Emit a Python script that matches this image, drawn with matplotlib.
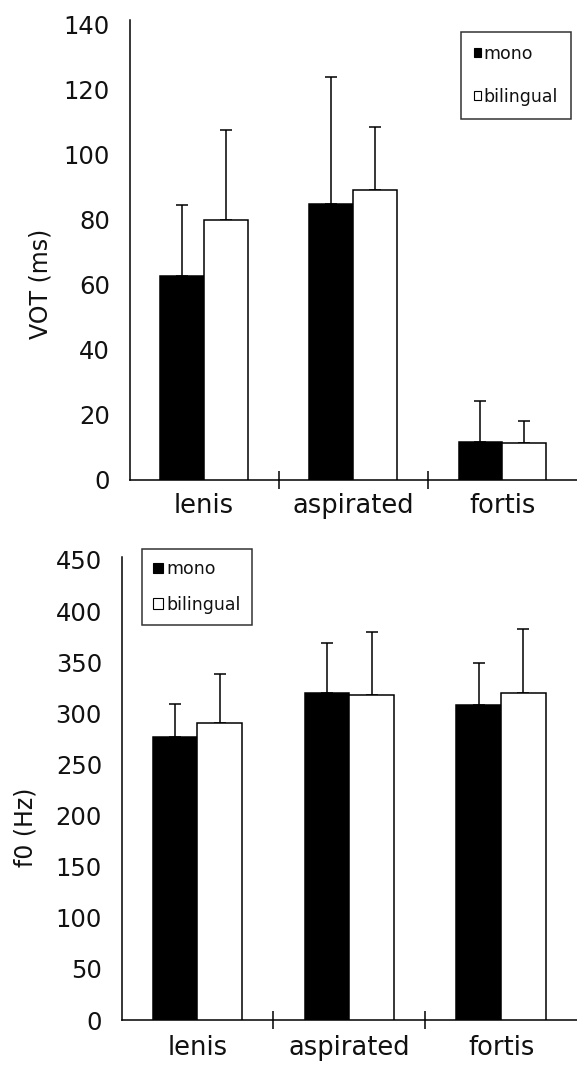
import matplotlib
matplotlib.use('Agg')
import matplotlib.pyplot as plt
from matplotlib.patches import Patch
import numpy as np

plt.rcParams['font.family'] = ['DejaVu Sans']

categories = ['lenis', 'aspirated', 'fortis']
series_names = ['mono', 'bilingual']

vot_mono = [62.6, 84.9, 11.6]
vot_mono_sd = [22.0, 39.2, 12.5]
vot_bil = [79.8, 89.1, 11.1]
vot_bil_sd = [27.9, 19.6, 6.8]

f0_mono = [277, 320, 308]
f0_mono_sd = [32.6, 49.2, 41.0]
f0_bil = [290.6, 317.7, 319.8]
f0_bil_sd = [48.2, 61.8, 62.7]

vot_ticks = [0, 20, 40, 60, 80, 100, 120, 140]
f0_ticks = [0, 50, 100, 150, 200, 250, 300, 350, 400, 450]

W, H = 577, 1065
fig = plt.figure(figsize=(W / 100, H / 100), dpi=100)

def fx(px):
    return px / W

def fy(py):
    return 1 - py / H

LW = 1.1
bw = 0.294
TXT = '#111111'


def draw(ax, mono, mono_sd, bil, bil_sd, ticks, ytop, ylabel, label_xy, xpad):
    x = np.arange(len(categories))
    ax.bar(x - bw / 2, mono, bw, color='black', edgecolor='black', linewidth=LW, zorder=3)
    ax.bar(x + bw / 2, bil, bw, color='white', edgecolor='black', linewidth=LW, zorder=3)
    ax.errorbar(x - bw / 2, mono, yerr=[np.zeros(len(mono)), mono_sd], fmt='none',
                ecolor='black', elinewidth=LW, capsize=4.2, capthick=LW, zorder=2)
    ax.errorbar(x + bw / 2, bil, yerr=[np.zeros(len(bil)), bil_sd], fmt='none',
                ecolor='black', elinewidth=LW, capsize=4.2, capthick=LW, zorder=2)
    ax.set_xlim(-0.5, len(categories) - 0.5)
    ax.set_ylim(0, ytop)
    ax.set_yticks(ticks)
    ax.set_xticks(x)
    ax.set_xticklabels(categories)
    ax.set_xticks([0.5, 1.5], minor=True)
    ax.tick_params(axis='x', which='major', length=0, pad=xpad, labelsize=18.5, colors=TXT)
    ax.tick_params(axis='x', which='minor', length=13, direction='inout', width=LW)
    ax.tick_params(axis='y', length=0, pad=14, labelsize=17.5, colors=TXT)
    for s in ['top', 'right']:
        ax.spines[s].set_visible(False)
    for s in ['left', 'bottom']:
        ax.spines[s].set_linewidth(LW)
    ax.set_ylabel(ylabel, fontsize=17, color=TXT)
    ax.yaxis.set_label_coords(*label_xy)
    ax.patch.set_alpha(0)


# top axes
ax1 = fig.add_axes([fx(129.5), fy(479.5), 1 - fx(129.5), (479.5 - 20) / H])
draw(ax1, vot_mono, vot_mono_sd, vot_bil, vot_bil_sd, vot_ticks, 141.5,
     'VOT (ms)', (-0.172, 0.425), 9.5)

# bottom axes
ax2 = fig.add_axes([fx(121.5), fy(1020), 1 - fx(121.5), (1020 - 556.5) / H])
draw(ax2, f0_mono, f0_mono_sd, f0_bil, f0_bil_sd, f0_ticks, 453.4,
     'f0 (Hz)', (-0.185, 0.415), 11)

handles = [Patch(facecolor='black', edgecolor='black', linewidth=0.8),
           Patch(facecolor='white', edgecolor='black', linewidth=0.8)]

leg1 = fig.legend(handles, series_names, loc='upper left',
                  bbox_to_anchor=(fx(461), fy(32)), bbox_transform=fig.transFigure,
                  fontsize=12.5, handlelength=0.42, handleheight=0.42, handletextpad=0.12,
                  labelspacing=1.45, borderpad=0.75, borderaxespad=0, fancybox=False,
                  frameon=True, edgecolor='black')
leg1.get_frame().set_linewidth(1.1)
for t in leg1.get_texts():
    t.set_color(TXT)

leg2 = fig.legend(handles, series_names, loc='upper left',
                  bbox_to_anchor=(fx(141.7), fy(549)), bbox_transform=fig.transFigure,
                  fontsize=12.5, handlelength=0.55, handleheight=0.55, handletextpad=0.2,
                  labelspacing=1.0, borderpad=0.65, borderaxespad=0, fancybox=False,
                  frameon=True, edgecolor='black')
leg2.get_frame().set_linewidth(1.1)
for t in leg2.get_texts():
    t.set_color(TXT)

fig.savefig('out.png', dpi=100, facecolor='white')
